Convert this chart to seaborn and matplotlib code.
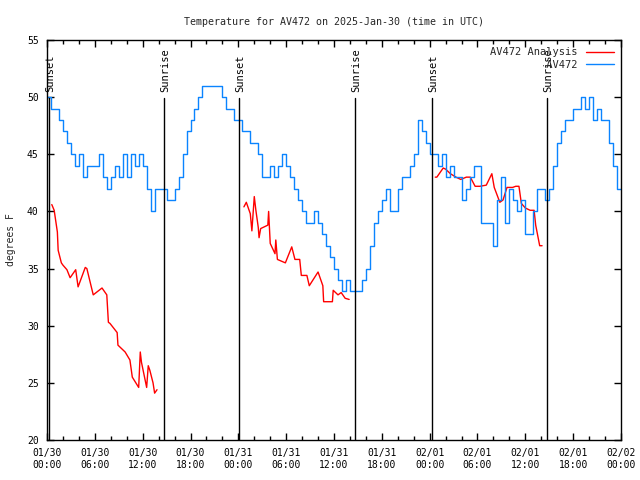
import numpy as np
import pandas as pd
import matplotlib
matplotlib.use('Agg')
import matplotlib.pyplot as plt
import matplotlib.transforms as mtransforms
from matplotlib.ticker import MultipleLocator
import seaborn as sns

# observed temperature, every half hour from 01/30 00:00 UTC
obs_hours = np.arange(0, 72.5, 0.5)
obs_temp = [50, 49, 49, 48, 47, 46, 45, 44, 45, 43, 44, 44, 44, 45, 43, 42, 43, 44, 43, 45,
            43, 45, 44, 45, 44, 42, 40, 42, 42, 42, 41, 41, 42, 43, 45, 47, 48, 49, 50, 51,
            51, 51, 51, 51, 50, 49, 49, 48, 48, 47, 47, 46, 46, 45, 43, 43, 44, 43, 44, 45,
            44, 43, 42, 41, 40, 39, 39, 40, 39, 38, 37, 36, 35, 34, 33, 34, 33, 33, 33, 34,
            35, 37, 39, 40, 41, 42, 40, 40, 42, 43, 43, 44, 45, 48, 47, 46, 45, 45, 44, 45,
            43, 44, 43, 43, 41, 42, 43, 44, 44, 39, 39, 39, 37, 41, 43, 39, 42, 41, 40, 41,
            38, 38, 40, 42, 42, 41, 42, 44, 46, 47, 48, 48, 49, 49, 50, 49, 50, 48, 49, 48,
            48, 46, 44, 42, 42]

# analysis, one run per night
ana_hours_1 = [0.6, 0.9, 1.3, 1.4, 1.8, 2.0, 2.5, 2.9, 3.6, 3.9, 4.8, 5.0, 5.8, 6.9, 7.5, 7.7,
               7.9, 8.8, 8.9, 9.8, 10.4, 10.7, 11.5, 11.7, 11.85, 12.5, 12.7, 12.9, 13.3, 13.5, 13.8]
ana_temp_1 = [40.6, 40.1, 38.2, 36.6, 35.5, 35.3, 34.9, 34.2, 34.9, 33.4, 35.1, 35.0, 32.7, 33.3,
              32.7, 30.3, 30.2, 29.4, 28.3, 27.7, 27.0, 25.5, 24.6, 27.7, 26.8, 24.6, 26.5, 26.1,
              25.0, 24.1, 24.4]
ana_hours_2 = [24.7, 25.0, 25.2, 25.5, 25.7, 26.0, 26.2, 26.5, 26.6, 26.8, 27.7, 27.8, 28.0, 28.6,
               28.7, 28.9, 29.9, 30.7, 31.1, 31.7, 31.9, 32.6, 32.9, 34.0, 34.6, 34.7, 35.8, 35.9,
               36.5, 36.9, 37.4, 37.9]
ana_temp_2 = [40.4, 40.8, 40.4, 39.8, 38.3, 41.3, 40.1, 38.6, 37.7, 38.5, 38.8, 40.0, 37.2, 36.3,
              37.5, 35.8, 35.5, 36.9, 35.8, 35.8, 34.4, 34.4, 33.5, 34.7, 33.5, 32.1, 32.1, 33.1,
              32.7, 32.9, 32.4, 32.3]
ana_hours_3 = [48.7, 48.9, 49.7, 50.0, 50.6, 51.3, 51.9, 52.6, 53.1, 53.7, 54.3, 55.1, 55.8, 56.1,
               56.8, 57.2, 57.7, 58.4, 58.8, 59.2, 59.5, 60.0, 60.6, 61.1, 61.3, 61.8, 62.1]
ana_temp_3 = [43.0, 43.0, 43.8, 43.7, 43.3, 43.0, 42.8, 43.0, 43.0, 42.2, 42.2, 42.3, 43.3, 42.1,
              40.8, 41.0, 42.1, 42.1, 42.2, 42.2, 40.7, 40.3, 40.1, 40.1, 38.8, 37.0, 37.0]

sun_hours = [0.25, 14.7, 24.1, 38.6, 48.3, 62.7]
sun_labels = ['Sunset', 'Sunrise', 'Sunset', 'Sunrise', 'Sunset', 'Sunrise']

tick_hours = list(range(0, 73, 6))
tick_labels = ['01/30\n00:00', '01/30\n06:00', '01/30\n12:00', '01/30\n18:00',
               '01/31\n00:00', '01/31\n06:00', '01/31\n12:00', '01/31\n18:00',
               '02/01\n00:00', '02/01\n06:00', '02/01\n12:00', '02/01\n18:00',
               '02/02\n00:00']

sns.set_theme(style='ticks')
plt.rcParams['font.family'] = ['DejaVu Sans Mono']
plt.rcParams['font.size'] = 7

fig = plt.figure(figsize=(6.4, 4.8), dpi=100)
ax = fig.add_axes([47 / 640, 40 / 480, 574 / 640, 400 / 480])

nights = [(ana_hours_1, ana_temp_1), (ana_hours_2, ana_temp_2), (ana_hours_3, ana_temp_3)]
for i, (h, t) in enumerate(nights):
    sns.lineplot(x=h, y=t, color='red', lw=1.0, ax=ax,
                 label='AV472 Analysis' if i == 0 else None)

sns.lineplot(x=obs_hours, y=obs_temp, color='#0a84ff', lw=1.0, drawstyle='steps-post',
             label='         AV472', ax=ax)

trans = mtransforms.blended_transform_factory(ax.transData, ax.transAxes)
for h, lab in zip(sun_hours, sun_labels):
    ax.axvline(h, ymin=0, ymax=0.855, color='black', lw=1.0)
    ax.text(h + 0.15, 0.87, lab, rotation=90, ha='center', va='bottom',
            transform=trans, fontsize=7.5, color='black')

ax.set_xlim(0, 72)
ax.set_ylim(20, 55)
ax.set_xticks(tick_hours)
ax.set_xticklabels(tick_labels)
ax.xaxis.set_minor_locator(MultipleLocator(2))
ax.set_yticks(range(20, 56, 5))
ax.tick_params(which='both', direction='in', top=True, right=True, colors='black',
               labelsize=7, pad=6)
ax.tick_params(which='major', length=5, width=1)
ax.tick_params(which='minor', length=3, width=1)
for s in ax.spines.values():
    s.set_color('black')
    s.set_linewidth(1.0)

ax.set_xlabel('')
ax.set_ylabel('degrees F', fontsize=7, labelpad=8)
ax.set_title('Temperature for AV472 on 2025-Jan-30 (time in UTC)', fontsize=7.2, pad=11)

ax.legend(loc='upper right', frameon=False, markerfirst=False, fontsize=7.5,
          handlelength=2.7, borderaxespad=0.3, labelspacing=0.25, handletextpad=0.8)

fig.savefig('out.png', dpi=100)
